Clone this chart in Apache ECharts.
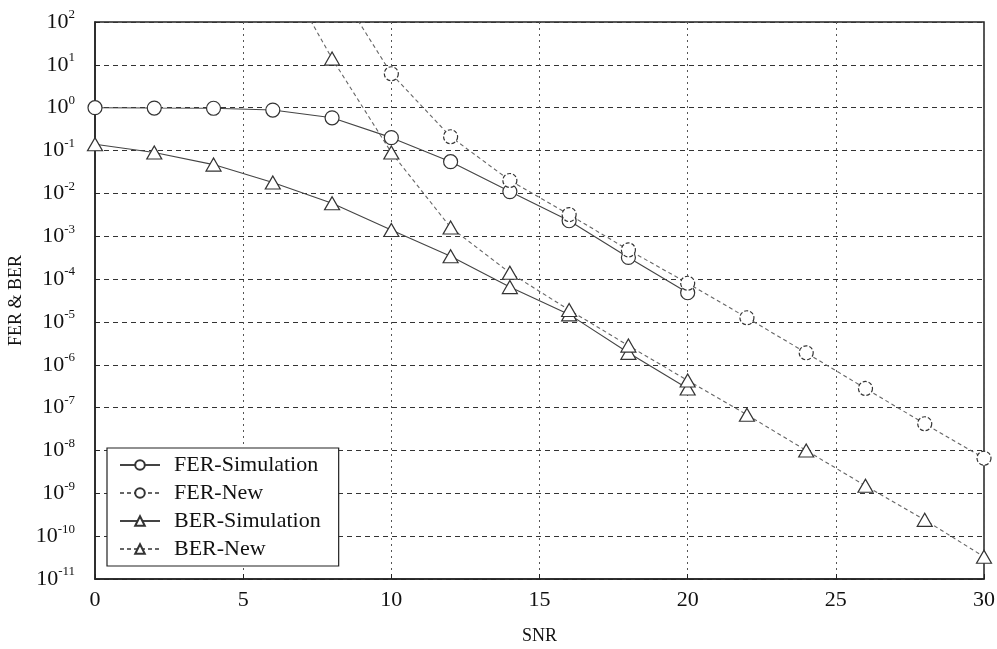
<!DOCTYPE html>
<html>
<head>
<meta charset="utf-8">
<script src="https://cdn.jsdelivr.net/npm/echarts@6/dist/echarts.min.js"></script>
<style>
  html, body { margin: 0; padding: 0; background: #fff; }
  #chart { width: 997px; height: 649px; }
</style>
</head>
<body>
<div id="chart"></div>
<script>
// SNR positions for each curve
const snrSim = [0, 2, 4, 6, 8, 10, 12, 14, 16, 18, 20]
const snrFerNew = [8, 10, 12, 14, 16, 18, 20, 22, 24, 26, 28, 30]
const snrBerNew = [6, 8, 10, 12, 14, 16, 18, 20, 22, 24, 26, 28, 30]

// values
const ferSim = [1.0, 0.98, 0.97, 0.88, 0.58, 0.2, 0.055, 0.011, 0.0023, 3.2e-4, 4.8e-5]
const ferNew = [1000, 6.2, 0.21, 0.02, 3.2e-3, 4.8e-4, 8e-5, 1.25e-5, 1.9e-6, 2.8e-7, 4.2e-8, 6.6e-9]
const berSim = [0.14, 0.09, 0.047, 0.018, 5.9e-3, 1.4e-3, 3.4e-4, 6.5e-5, 1.5e-5, 1.9e-6, 2.8e-7]
const berNew = [4000, 14, 0.09, 1.6e-3, 1.4e-4, 1.9e-5, 2.8e-6, 4.3e-7, 6.8e-8, 1.0e-8, 1.5e-9, 2.4e-10, 3.3e-11]

const xTicks = [0, 5, 10, 15, 20, 25, 30]

const serif = '"Liberation Serif", "DejaVu Serif", serif'

function pairs(xs, ys) {
	return xs.map((x, i) => [x, ys[i]])
}

const chart = echarts.init(document.getElementById('chart'))

function makeSeries(name, xs, ys, symbol, dashed) {
	return {
		name: name,
		type: 'line',
		data: pairs(xs, ys),
		symbol: symbol,
		symbolSize: symbol === 'circle' ? 14 : [15, 13],
		showAllSymbol: true,
		clip: true,
		animation: false,
		lineStyle: {
			color: dashed ? '#666' : '#444',
			width: 1.1,
			type: dashed ? [4, 3] : 'solid'
		},
		itemStyle: {
			color: '#fff',
			borderColor: '#333',
			borderWidth: 1.2,
			borderType: dashed && symbol === 'circle' ? [4, 2] : 'solid'
		},
		emphasis: { disabled: true }
	}
}

chart.setOption({
	backgroundColor: '#fff',
	grid: {
		left: 95,
		right: 13,
		top: 22,
		bottom: 70,
		outerBoundsMode: 'none',
		containLabel: false,
		show: true,
		borderColor: '#222',
		borderWidth: 1.5,
		backgroundColor: 'transparent'
	},
	legend: {
		orient: 'vertical',
		left: 107,
		top: 448,
		itemWidth: 40,
		itemHeight: 12,
		itemGap: 6,
		padding: [6, 18, 6, 12],
		borderColor: '#222',
		borderWidth: 1.2,
		backgroundColor: '#fff',
		textStyle: { fontFamily: serif, fontSize: 22, color: '#111', padding: [0, 0, 0, 9] },
		data: ['FER-Simulation', 'FER-New', 'BER-Simulation', 'BER-New']
	},
	xAxis: {
		type: 'value',
		min: xTicks[0],
		max: xTicks[xTicks.length - 1],
		interval: 5,
		name: 'SNR',
		nameLocation: 'middle',
		nameGap: 48,
		nameTextStyle: { fontFamily: serif, fontSize: 18, color: '#111' },
		axisLine: { lineStyle: { color: '#222', width: 1.5 } },
		axisTick: { inside: true, length: 5, lineStyle: { color: '#222' } },
		axisLabel: { fontFamily: serif, fontSize: 22, color: '#111', margin: 10 },
		splitLine: { show: true, lineStyle: { color: '#555', type: [2, 4], width: 1 } }
	},
	yAxis: {
		type: 'log',
		logBase: 10,
		min: 1e-11,
		max: 100,
		interval: 1,
		name: 'FER & BER',
		nameLocation: 'middle',
		nameGap: 68,
		nameTextStyle: { fontFamily: serif, fontSize: 18, color: '#111' },
		axisLine: { lineStyle: { color: '#222', width: 1.5 } },
		axisTick: { inside: true, length: 5, lineStyle: { color: '#222' } },
		axisLabel: {
			margin: 20,
			formatter: function (v) {
				const e = Math.round(Math.log10(v))
				return '{b|10}{s|' + e + '}'
			},
			rich: {
				b: { fontFamily: serif, fontSize: 22, color: '#111' },
				s: { fontFamily: serif, fontSize: 13, color: '#111', padding: [0, 0, 14, 0] }
			}
		},
		splitLine: { show: true, lineStyle: { color: '#333', type: [5, 4], width: 1 } }
	},
	series: [
		makeSeries('FER-Simulation', snrSim, ferSim, 'circle', false),
		makeSeries('FER-New', snrFerNew, ferNew, 'circle', true),
		makeSeries('BER-Simulation', snrSim, berSim, 'triangle', false),
		makeSeries('BER-New', snrBerNew, berNew, 'triangle', true)
	]
})
</script>
</body>
</html>
